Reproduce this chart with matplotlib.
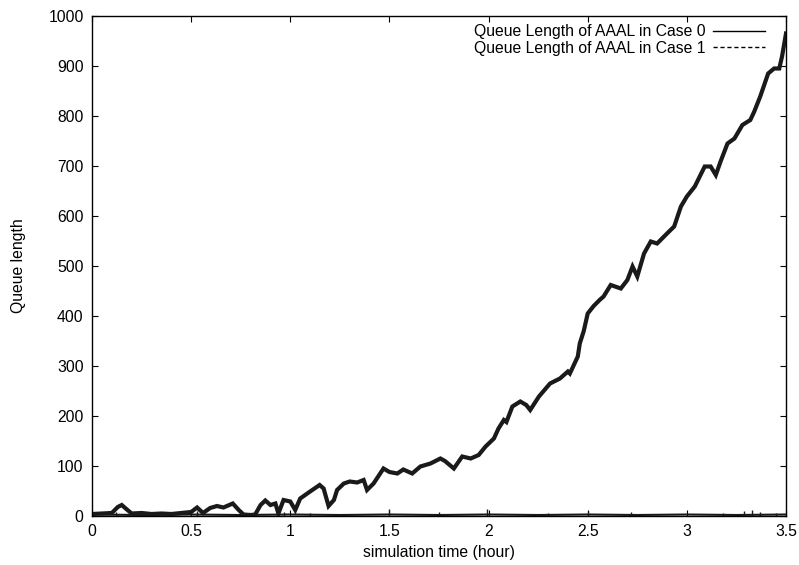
#!/usr/bin/env python

import numpy as np
import matplotlib
matplotlib.use('Agg')
from matplotlib import pyplot as plt
from matplotlib.lines import Line2D

plt.rcParams['font.family'] = ['Liberation Sans', 'DejaVu Sans']

# Case 0 queue length (hour, packets)
case0_t = [0.0, 0.05, 0.10, 0.13, 0.15, 0.17, 0.20, 0.25, 0.30, 0.35, 0.40, 0.45, 0.50,
           0.53, 0.56, 0.596, 0.63, 0.663, 0.71, 0.74, 0.764, 0.80, 0.823, 0.85, 0.874,
           0.90, 0.925, 0.94, 0.966, 1.0, 1.025, 1.05, 1.10, 1.148, 1.168, 1.193, 1.22,
           1.236, 1.27, 1.30, 1.337, 1.37, 1.387, 1.42, 1.47, 1.50, 1.54, 1.57, 1.615,
           1.656, 1.707, 1.757, 1.78, 1.825, 1.867, 1.91, 1.95, 1.985, 2.027, 2.05, 2.077,
           2.09, 2.12, 2.16, 2.19, 2.21, 2.254, 2.31, 2.36, 2.40, 2.41, 2.45, 2.46, 2.48,
           2.50, 2.53, 2.56, 2.58, 2.616, 2.667, 2.70, 2.726, 2.75, 2.784, 2.818, 2.85,
           2.90, 2.936, 2.97, 3.00, 3.04, 3.09, 3.12, 3.146, 3.17, 3.205, 3.24, 3.28,
           3.32, 3.34, 3.37, 3.41, 3.44, 3.466, 3.48, 3.5]
case0_q = [4, 5, 6, 18, 22, 15, 5, 6, 4, 5, 4, 6, 8,
           17, 6, 16, 20, 17, 25, 12, 3, 2, 3, 22, 31,
           22, 25, 5, 32, 29, 12, 35, 49, 62, 55, 20, 32,
           52, 65, 69, 67, 72, 52, 65, 95, 88, 85, 93, 85,
           99, 105, 115, 110, 95, 119, 115, 122, 139, 155, 175, 192,
           188, 219, 229, 222, 212, 239, 265, 275, 289, 285, 319, 345, 370,
           405, 420, 432, 439, 462, 455, 472, 499, 479, 525, 549, 545,
           565, 579, 619, 639, 659, 699, 699, 682, 709, 745, 755, 782,
           792, 809, 839, 885, 895, 895, 919, 965]

# Case 1 queue length: hugs zero, with a few needle spikes
case1_t = [0.0, 0.25, 0.5, 0.75, 1.0, 1.25, 1.5, 1.75, 2.0, 2.25, 2.5, 2.75, 3.0, 3.25, 3.5]
case1_q = [3, 2, 3, 2, 3, 2, 3, 2, 3, 2, 3, 2, 3, 2, 3]
spike_t = [0.12, 0.53, 0.97, 1.1, 1.5, 1.75, 1.99, 2.3, 2.5, 2.72, 3.18, 3.29, 3.33, 3.37, 3.45]
spike_q = [8, 10, 9, 7, 15, 8, 14, 7, 11, 8, 7, 10, 12, 9, 7]

fig = plt.figure(figsize=(7.99, 5.65), dpi=100)
ax = fig.add_axes([92/799, 49/565, 694/799, 500/565])

ax.plot(case0_t, case0_q, color='#1a1a1a', lw=3.0, solid_joinstyle='miter')
ax.plot(case1_t, case1_q, color='#1a1a1a', lw=1.5)
ax.vlines(spike_t, 0, spike_q, color='#1a1a1a', lw=1.0)

ax.set_xlim(0, 3.5)
ax.set_ylim(0, 1000)
ax.set_xticks([0, 0.5, 1, 1.5, 2, 2.5, 3, 3.5])
ax.set_xticklabels(['0', '0.5', '1', '1.5', '2', '2.5', '3', '3.5'])
ax.set_yticks(np.arange(0, 1001, 100))
ax.tick_params(direction='in', top=True, right=True, length=4, width=0.8,
               labelsize=11.3, pad=6)
for s in ax.spines.values():
    s.set_linewidth(1.0)

ax.set_xlabel('simulation time (hour)', fontsize=11.3, labelpad=4)
ax.set_ylabel('Queue length', fontsize=11.3, labelpad=16)

handles = [Line2D([], [], color='black', lw=1.0),
           Line2D([], [], color='black', lw=1.0, ls=(0, (3, 2)))]
ax.legend(handles, ['Queue Length of AAAL in Case 0', 'Queue Length of AAAL in Case 1'],
          loc='upper right', bbox_to_anchor=(0.970, 0.984), frameon=False,
          markerfirst=False, fontsize=11.3, handlelength=3.3, handletextpad=0.5,
          labelspacing=0.1, borderpad=0, borderaxespad=0)

fig.savefig('out.png', dpi=100)
